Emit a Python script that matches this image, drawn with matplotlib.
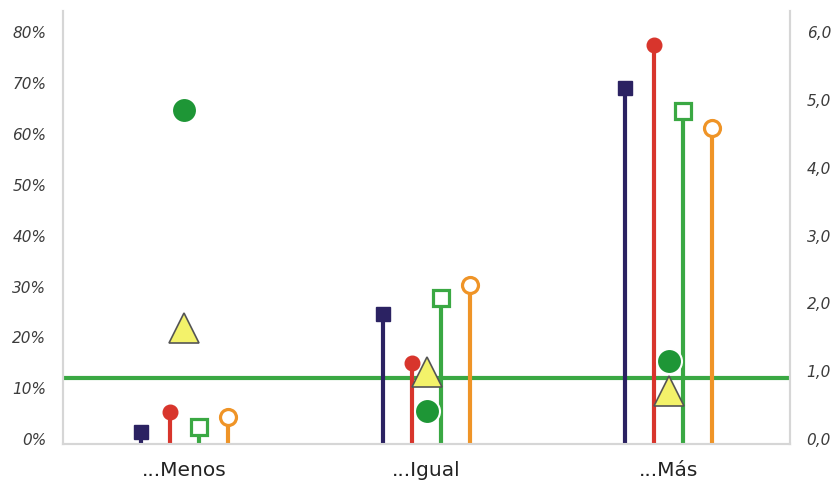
import matplotlib
matplotlib.use("Agg")
import matplotlib.pyplot as plt
import matplotlib.transforms as mtransforms
import numpy as np

# Categories and series (left axis in %, right axis in score units)
categories = ["...Menos", "...Igual", "...Más"]
serie_a = [2.3, 25.5, 70.1]      # dark purple, filled square
serie_b = [6.2, 15.9, 78.5]      # red, filled circle
serie_c = [3.4, 28.7, 65.6]      # green, open square
serie_d = [5.4, 31.3, 62.1]      # orange, open circle
punto_verde = [4.93, 0.48, 1.23]  # right axis, big green dot
triangulo = [1.71, 1.06, 0.78]    # right axis, yellow triangle
referencia = 0.97                 # right axis, horizontal reference line

left_ticks = [0, 10, 20, 30, 40, 50, 60, 70, 80]
left_labels = ["0%", "10%", "20%", "30%", "40%", "50%", "60%", "70%", "80%"]
right_ticks = [0, 1, 2, 3, 4, 5, 6]
right_labels = ["0,0", "1,0", "2,0", "3,0", "4,0", "5,0", "6,0"]

PURPLE = "#2b2262"
RED = "#d8352c"
GREEN = "#3aa843"
ORANGE = "#ef9427"
DOT = "#1e9636"
YELLOW = "#f3f26a"
SPINE = "#d6d6d6"

fig = plt.figure(figsize=(8.36, 4.82), dpi=100)
ax = fig.add_axes([63 / 836, 38 / 482, 727 / 836, 433 / 482])
ax2 = ax.twinx()

x = np.arange(len(categories))
ax.set_xlim(-0.5, 2.5)
ax.set_ylim(0, 85.2)
ax2.set_ylim(0, 85.2 * 6 / 80)

# reference line (right axis), behind the stems
ax2.axhline(referencia, color=GREEN, lw=3, zorder=1)

ax.set_zorder(ax2.get_zorder() + 1)
ax.patch.set_visible(False)

stems = [
    (serie_a, -0.18, PURPLE, "s", PURPLE, 10),
    (serie_b, -0.06, RED, "o", RED, 10.5),
    (serie_c, 0.06, GREEN, "s", "white", 11),
    (serie_d, 0.18, ORANGE, "o", "white", 11.5),
]
for vals, off, col, mk, fc, ms in stems:
    xs = x + off
    ax.vlines(xs, 0, vals, color=col, lw=3, zorder=2)
    ax.plot(xs, vals, ls="none", marker=mk, ms=ms, mfc=fc, mec=col,
            mew=2.3 if fc == "white" else 1, zorder=3)

# right-axis markers drawn in left-axis space via scaling
scale = 80 / 6
ax.plot(x, np.array(punto_verde) * scale, ls="none", marker="o", ms=18,
        mfc=DOT, mec="white", mew=1.5, zorder=4)
ax.plot(x, np.array(triangulo) * scale, ls="none", marker="^", ms=21,
        mfc=YELLOW, mec="#555555", mew=1.2, zorder=4)

ax.set_xticks(x)
ax.set_xticklabels(categories, fontsize=14.5, color="#222222",
                   family="DejaVu Sans")
ax.set_yticks(left_ticks)
ax.set_yticklabels(left_labels, fontsize=11, color="#3c3c3c",
                   family="DejaVu Sans", style="italic")
ax2.set_yticks(right_ticks)
ax2.set_yticklabels(right_labels, fontsize=11, color="#3c3c3c",
                    family="DejaVu Sans", style="italic")

ax.tick_params(axis="both", length=0)
ax.tick_params(axis="y", pad=12)
ax.tick_params(axis="x", pad=12)
ax2.tick_params(axis="y", length=0, pad=12)

for a in (ax, ax2):
    a.spines["top"].set_visible(False)
    for side in ("left", "right", "bottom"):
        a.spines[side].set_color(SPINE)
        a.spines[side].set_linewidth(1.5)

# lift the value labels slightly above their tick positions
lift = mtransforms.ScaledTranslation(0, 5 / 100, fig.dpi_scale_trans)
for t in ax.yaxis.get_major_ticks():
    t.label1.set_transform(t.label1.get_transform() + lift)
for t in ax2.yaxis.get_major_ticks():
    t.label2.set_transform(t.label2.get_transform() + lift)

fig.savefig("out.png", dpi=100)
